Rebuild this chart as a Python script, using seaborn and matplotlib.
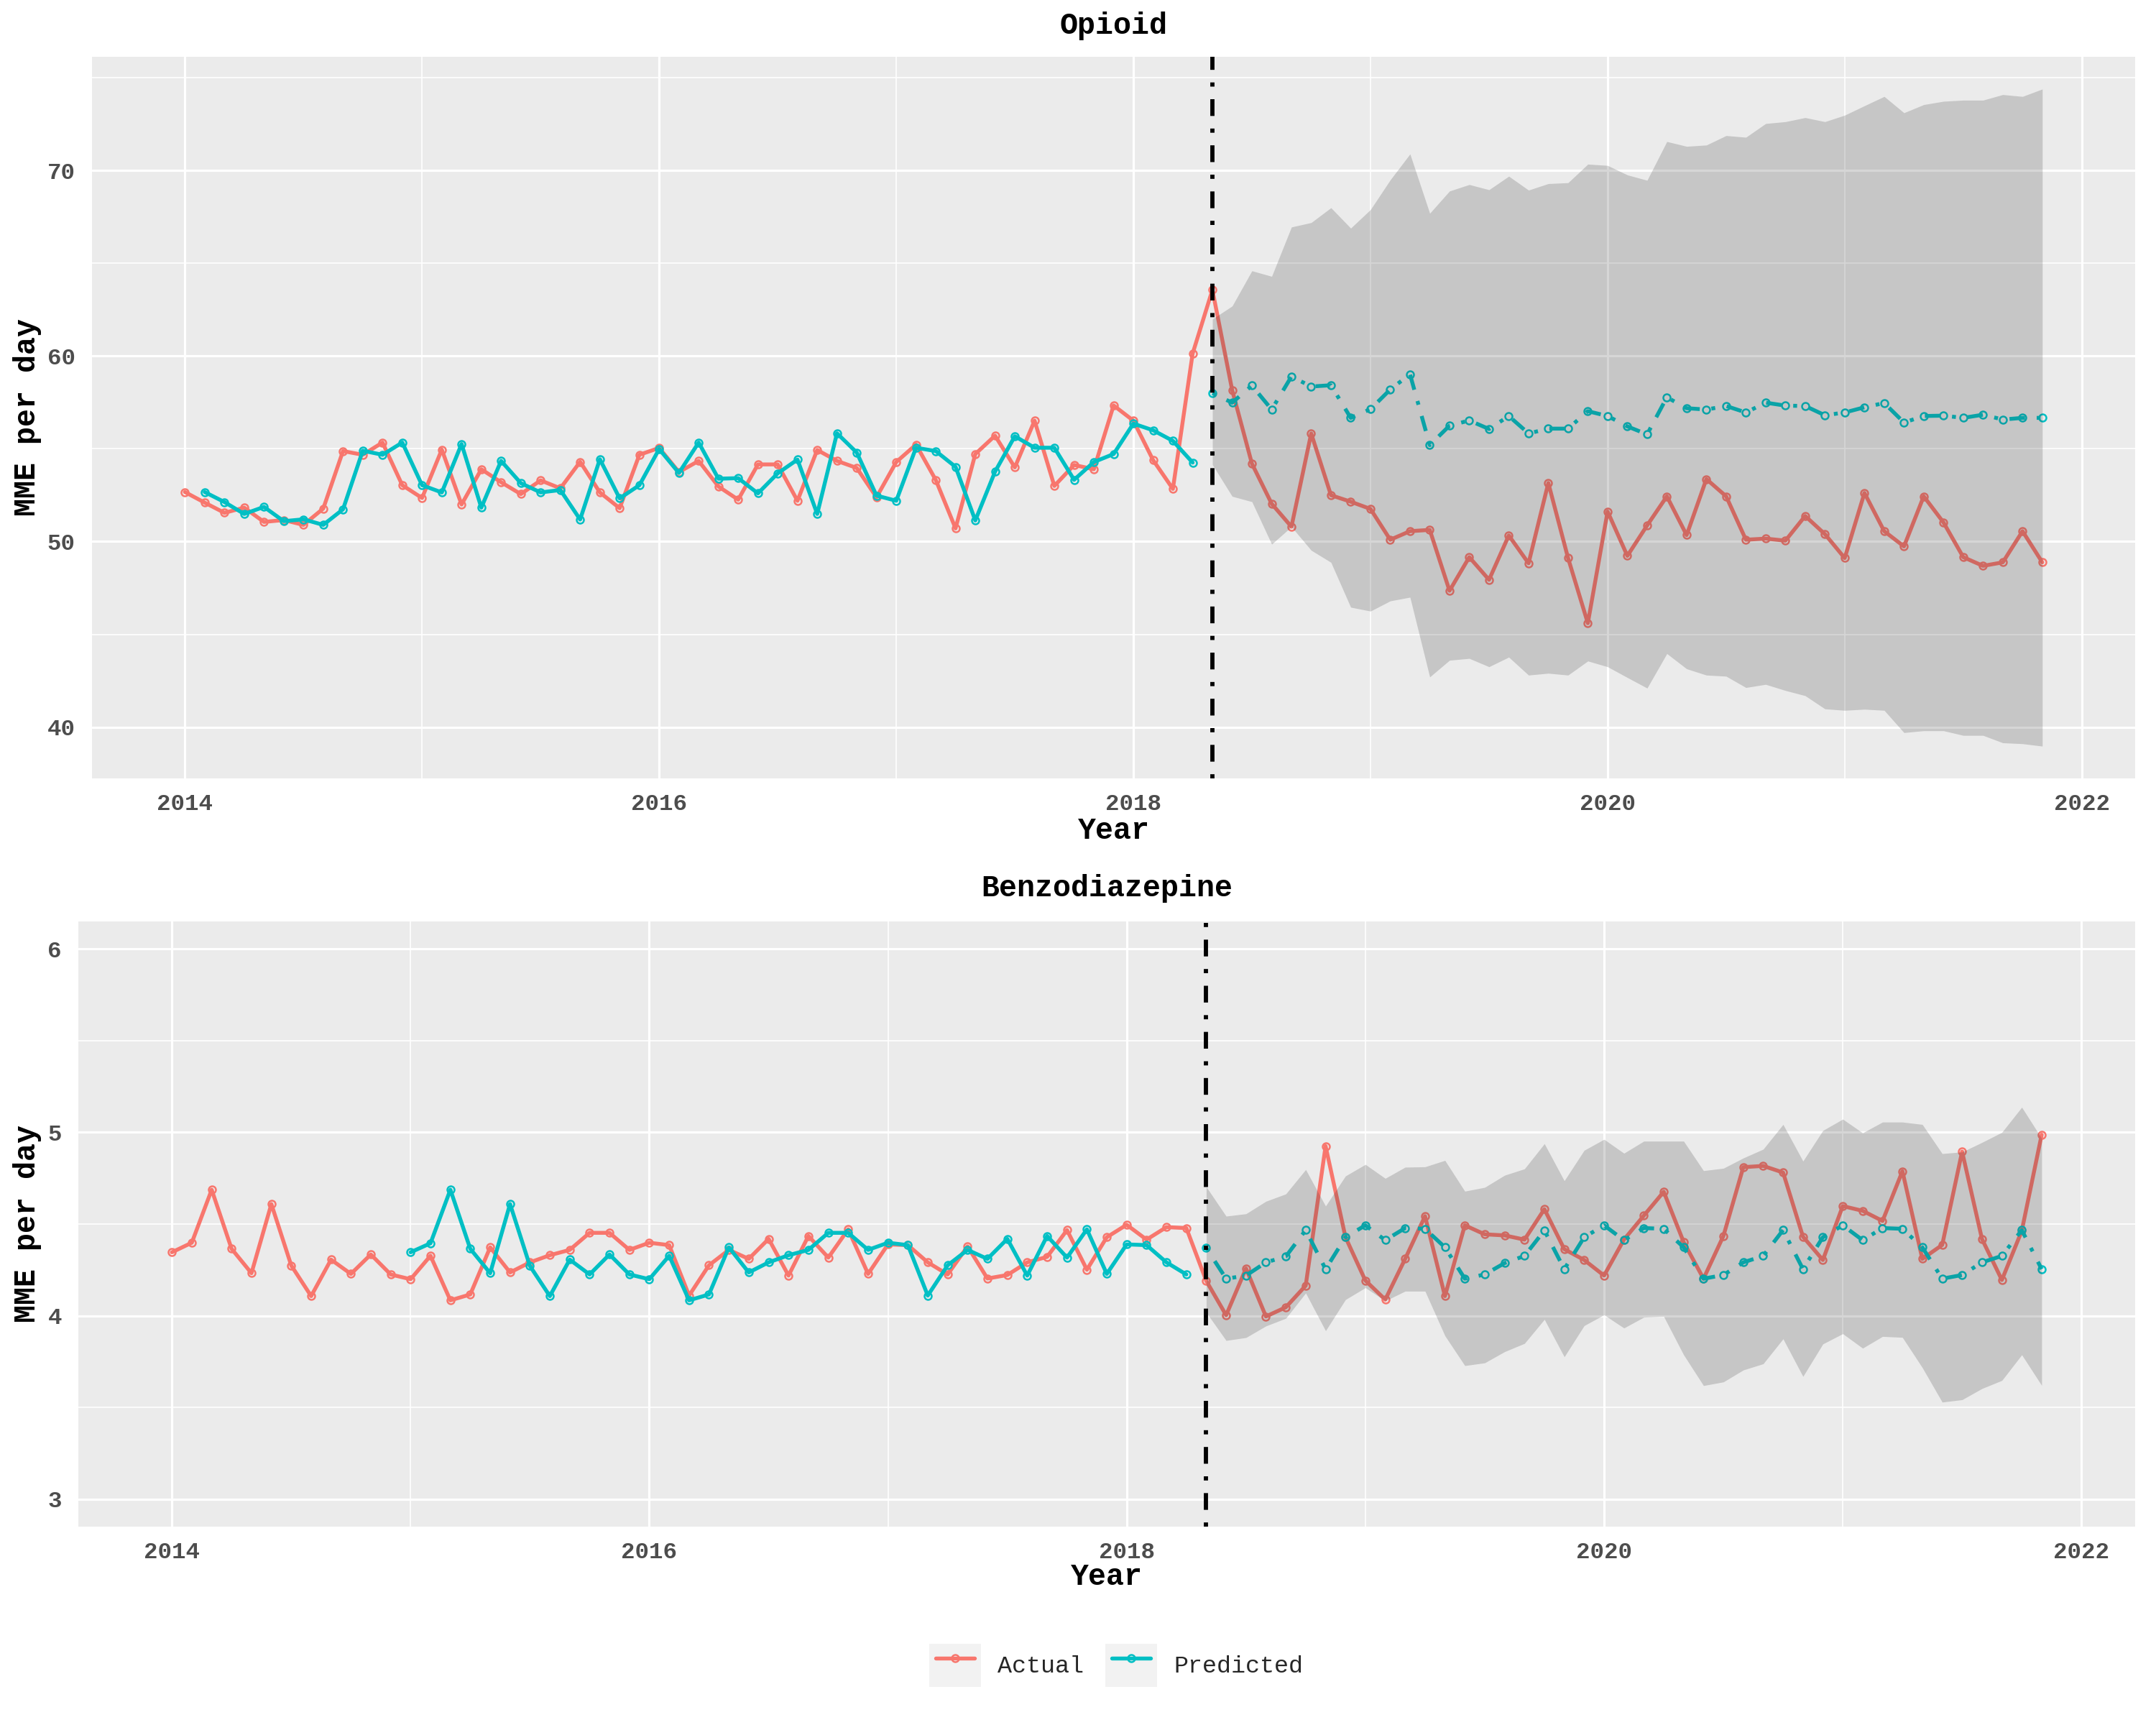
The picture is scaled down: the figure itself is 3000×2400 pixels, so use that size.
import numpy as np
import pandas as pd
import matplotlib
matplotlib.use("Agg")
import matplotlib.pyplot as plt
import seaborn as sns
from matplotlib.ticker import FixedLocator
from matplotlib.lines import Line2D
from matplotlib.patches import Patch
from matplotlib.legend_handler import HandlerTuple, HandlerLine2D

# ---------------- data ----------------
ACTUAL_START = "2014-01-01"
FORECAST_START = "2018-05-01"   # intervention / forecast start

opioid_actual = [
    52.67, 52.10, 51.55, 51.83, 51.06, 51.16, 50.90, 51.78, 54.88, 54.68, 55.34, 53.04,
    52.35, 54.96, 52.00, 53.90, 53.20, 52.56, 53.30, 52.87, 54.30, 52.65, 51.80, 54.68,
    55.05, 53.75, 54.35, 52.97, 52.26, 54.16, 54.16, 52.20, 54.94, 54.35, 53.97, 52.39,
    54.29, 55.23, 53.32, 50.71, 54.72, 55.71, 54.00, 56.52, 53.00, 54.13, 53.90, 57.34,
    56.52, 54.39, 52.84, 60.14, 63.57, 58.17, 54.20, 52.04, 50.80, 55.83, 52.50, 52.15,
    51.76, 50.10, 50.56, 50.63, 47.35, 49.16, 47.94, 50.33, 48.83, 53.16, 49.11, 45.60,
    51.62, 49.23, 50.87, 52.44, 50.35, 53.37, 52.44, 50.10, 50.16, 50.05, 51.38, 50.40,
    49.11, 52.62, 50.56, 49.74, 52.44, 51.03, 49.16, 48.69, 48.88, 50.56, 48.88,
]
opioid_pred_start = "2014-02-01"
opioid_pred_fit = [
    52.67, 52.13, 51.49, 51.87, 51.10, 51.20, 50.90, 51.74, 54.90, 54.68, 55.34,
    53.04, 52.65, 55.26, 51.83, 54.35, 53.15, 52.65, 52.78, 51.19, 54.44, 52.33, 53.04,
    54.99, 53.70, 55.34, 53.39, 53.42, 52.60, 53.68, 54.42, 51.49, 55.84, 54.80, 52.48,
    52.20, 55.06, 54.88, 54.03, 51.14, 53.77, 55.68, 55.06, 55.06, 53.33, 54.29, 54.72,
    56.36, 56.00, 55.43, 54.26,
]
opioid_pred_fc = [
    58.00, 57.49, 58.41, 57.12, 58.90, 58.36, 58.43, 56.67,
    57.14, 58.20, 59.02, 55.20, 56.25, 56.53, 56.07, 56.77, 55.83, 56.09, 56.09, 57.03,
    56.77, 56.21, 55.78, 57.78, 57.19, 57.12, 57.31, 56.96, 57.49, 57.33, 57.31, 56.81,
    56.96, 57.24, 57.47, 56.42, 56.77, 56.79, 56.67, 56.84, 56.58, 56.67, 56.67,
]
opioid_upper = [
    62.00, 62.70, 64.60, 64.30, 66.96, 67.20, 68.00, 66.90,
    67.90, 69.50, 70.90, 67.70, 68.90, 69.25, 68.97, 69.70, 68.95, 69.30, 69.35, 70.35,
    70.28, 69.77, 69.48, 71.57, 71.31, 71.38, 71.89, 71.80, 72.54, 72.64, 72.86, 72.64,
    72.99, 73.50, 74.00, 73.12, 73.56, 73.74, 73.80, 73.80, 74.10, 74.00, 74.40,
]
opioid_lower = [
    54.15, 52.44, 52.15, 49.86, 50.80, 49.53, 48.88, 46.46,
    46.25, 46.80, 47.00, 42.70, 43.60, 43.70, 43.25, 43.77, 42.80, 42.90, 42.80, 43.56,
    43.25, 42.67, 42.10, 43.96, 43.14, 42.80, 42.74, 42.13, 42.30, 41.97, 41.69, 40.98,
    40.90, 40.96, 40.90, 39.70, 39.80, 39.80, 39.55, 39.55, 39.15, 39.10, 38.97,
]

benzo_actual = [
    4.346, 4.398, 4.687, 4.365, 4.232, 4.609, 4.274, 4.107, 4.306, 4.228, 4.334, 4.225,
    4.199, 4.327, 4.084, 4.116, 4.373, 4.236, 4.291, 4.330, 4.359, 4.452, 4.452, 4.359,
    4.398, 4.385, 4.110, 4.275, 4.359, 4.310, 4.419, 4.219, 4.435, 4.317, 4.471, 4.228,
    4.389, 4.385, 4.291, 4.225, 4.378, 4.203, 4.222, 4.291, 4.321, 4.467, 4.251, 4.428,
    4.496, 4.415, 4.483, 4.478, 4.190, 4.003, 4.258, 3.996, 4.046, 4.164, 4.925, 4.428,
    4.192, 4.088, 4.310, 4.543, 4.107, 4.493, 4.444, 4.438, 4.415, 4.581, 4.363, 4.304,
    4.219, 4.415, 4.546, 4.676, 4.402, 4.202, 4.435, 4.810, 4.817, 4.781, 4.431, 4.304,
    4.598, 4.572, 4.517, 4.788, 4.310, 4.386, 4.895, 4.418, 4.195, 4.463, 4.987,
]
benzo_pred_start = "2015-01-01"
benzo_pred_fit = [
    4.346, 4.395, 4.687, 4.365, 4.232, 4.609, 4.271, 4.107, 4.306, 4.225, 4.334, 4.225,
    4.199, 4.327, 4.084, 4.116, 4.373, 4.236, 4.291, 4.330, 4.359, 4.452, 4.452, 4.359,
    4.398, 4.385, 4.110, 4.275, 4.359, 4.310, 4.419, 4.219, 4.435, 4.317, 4.471, 4.228,
    4.389, 4.385, 4.291, 4.225,
]
benzo_pred_fc = [
    4.369, 4.202, 4.219, 4.291, 4.323, 4.467, 4.254, 4.428,
    4.493, 4.412, 4.478, 4.474, 4.373, 4.202, 4.225, 4.287, 4.326, 4.465, 4.254, 4.428,
    4.493, 4.412, 4.478, 4.474, 4.373, 4.202, 4.222, 4.291, 4.326, 4.467, 4.254, 4.428,
    4.493, 4.412, 4.478, 4.474, 4.373, 4.202, 4.222, 4.291, 4.326, 4.467, 4.254,
]
benzo_upper = [
    4.703, 4.543, 4.556, 4.624, 4.664, 4.797, 4.598, 4.762,
    4.825, 4.749, 4.810, 4.812, 4.847, 4.679, 4.700, 4.766, 4.801, 4.938, 4.736, 4.902,
    4.962, 4.886, 4.952, 4.952, 4.952, 4.791, 4.804, 4.860, 4.908, 5.043, 4.843, 5.010,
    5.072, 4.997, 5.056, 5.056, 5.043, 4.884, 4.893, 4.945, 5.000, 5.137, 4.967,
]
benzo_lower = [
    4.018, 3.865, 3.881, 3.944, 3.986, 4.124, 3.918, 4.088,
    4.153, 4.081, 4.134, 4.134, 3.891, 3.728, 3.743, 3.804, 3.849, 3.980, 3.776, 3.946,
    4.005, 3.933, 3.992, 3.996, 3.787, 3.619, 3.639, 3.704, 3.738, 3.874, 3.669, 3.846,
    3.902, 3.823, 3.887, 3.882, 3.717, 3.529, 3.542, 3.603, 3.647, 3.787, 3.620,
]

panel_titles = ["Opioid", "Benzodiazepine"]
x_label = "Year"
y_label = "MME per day"
series_labels = ["Actual", "Predicted"]
x_ticks = [2014, 2016, 2018, 2020, 2022]
x_minor = [2015, 2017, 2019, 2021]

# ---------------- style ----------------
RED = "#F8766D"
TEAL = "#00BFC4"
LW = 1.3
MS = 2.4
DOTDASH = (1, 3, 4, 3)

sns.set_theme(style="darkgrid", rc={
    "axes.facecolor": "#EBEBEB",
    "figure.facecolor": "white",
    "grid.color": "white",
    "axes.edgecolor": "none",
})
plt.rcParams["font.family"] = ["Liberation Mono", "DejaVu Sans"]


def decimal_months(start, n):
    d = pd.date_range(start, periods=n, freq="MS")
    return np.asarray(d.year + (d.month - 1) / 12.0, dtype=float)


def to_dec(datestr):
    d = pd.Timestamp(datestr)
    return d.year + (d.month - 1) / 12.0


def series_line(ax, x, y, color, dashed=False, z=3):
    df = pd.DataFrame({"x": x, "y": y})
    sns.lineplot(data=df, x="x", y="y", ax=ax, color=color, lw=LW,
                 marker="o", markersize=MS, markerfacecolor="none",
                 markeredgecolor=color, markeredgewidth=0.6,
                 estimator=None, sort=False, legend=False, zorder=z)
    line = ax.lines[-1]
    if dashed:
        line.set_dashes(DOTDASH)
    return line


class PaddedLine(HandlerLine2D):
    """Legend line that stops a little short of the key box edges."""
    def create_artists(self, legend, orig_handle, xdescent, ydescent,
                       width, height, fontsize, trans):
        pad = 0.12 * width
        return super().create_artists(legend, orig_handle, xdescent - pad,
                                      ydescent, width - 2 * pad, height,
                                      fontsize, trans)


fig = plt.figure(figsize=(10, 8), dpi=300)
W, H = 3000.0, 2400.0

panels = [
    dict(rect=(128, 79, 2971, 1083), title=panel_titles[0],
         act=opioid_actual, pstart=opioid_pred_start, pfit=opioid_pred_fit,
         pfc=opioid_pred_fc, lo=opioid_lower, hi=opioid_upper,
         ylim=(37.23, 76.14), yticks=[40, 50, 60, 70], yminor=[45, 55, 65, 75],
         title_px=36, xlab_px=1156),
    dict(rect=(109, 1282, 2971, 2124), title=panel_titles[1],
         act=benzo_actual, pstart=benzo_pred_start, pfit=benzo_pred_fit,
         pfc=benzo_pred_fc, lo=benzo_lower, hi=benzo_upper,
         ylim=(2.85, 6.15), yticks=[3, 4, 5, 6], yminor=[3.5, 4.5, 5.5],
         title_px=1236, xlab_px=2194),
]

for p in panels:
    l, t, r, b = p["rect"]
    ax = fig.add_axes([l / W, 1 - b / H, (r - l) / W, (b - t) / H])
    hpx = b - t
    wpx = r - l

    x_act = decimal_months(ACTUAL_START, len(p["act"]))
    x_fit = decimal_months(p["pstart"], len(p["pfit"]))
    x_fc = decimal_months(FORECAST_START, len(p["pfc"]))

    series_line(ax, x_act, p["act"], RED, z=3)
    series_line(ax, x_fit, p["pfit"], TEAL, z=3.2)
    series_line(ax, x_fc, p["pfc"], TEAL, dashed=True, z=3.2)

    ax.fill_between(x_fc, p["lo"], p["hi"], color="#333333", alpha=0.2,
                    lw=0, zorder=4)
    ax.axvline(to_dec(FORECAST_START), color="black", lw=1.4,
               dashes=DOTDASH, zorder=5)

    ax.set_xlim(2013.608, 2022.225)
    ax.set_ylim(*p["ylim"])
    ax.xaxis.set_major_locator(FixedLocator(x_ticks))
    ax.xaxis.set_minor_locator(FixedLocator(x_minor))
    ax.yaxis.set_major_locator(FixedLocator(p["yticks"]))
    ax.yaxis.set_minor_locator(FixedLocator(p["yminor"]))
    ax.set_xticklabels([str(v) for v in x_ticks])
    ax.set_yticklabels([str(v) for v in p["yticks"]])
    ax.grid(which="major", color="white", lw=0.75)
    ax.grid(which="minor", color="white", lw=0.4)
    ax.set_axisbelow(True)
    for s in ax.spines.values():
        s.set_visible(False)
    ax.tick_params(which="major", length=2.75, width=0.7, color="#333333",
                   labelsize=7.8, labelcolor="#4D4D4D")
    ax.tick_params(axis="x", pad=2.2)
    ax.tick_params(axis="y", pad=2.8)
    ax.tick_params(which="minor", length=0)
    for lab in ax.get_xticklabels() + ax.get_yticklabels():
        lab.set_fontweight("bold")

    ax.set_xlabel(x_label, fontsize=10, fontweight="bold", color="black",
                  va="center")
    ax.xaxis.set_label_coords(0.5, (b - p["xlab_px"]) / hpx)
    ax.set_ylabel(y_label, fontsize=10, fontweight="bold", color="black",
                  va="center", ha="center")
    ax.yaxis.set_label_coords((38 - l) / wpx, 0.5)
    ax.set_title(p["title"], fontsize=10, fontweight="bold", color="black",
                 y=1 + (t - p["title_px"]) / hpx, pad=0, va="center")

# legend
handles = [
    (Patch(facecolor="#F2F2F2", edgecolor="none"),
     Line2D([], [], color=RED, lw=LW, marker="o", markersize=MS,
            markerfacecolor="none", markeredgewidth=0.6)),
    (Patch(facecolor="#F2F2F2", edgecolor="none"),
     Line2D([], [], color=TEAL, lw=LW, marker="o", markersize=MS,
            markerfacecolor="none", markeredgewidth=0.6)),
]
fig.legend(handles, series_labels,
           handler_map={tuple: HandlerTuple(ndivide=1, pad=0),
                        Line2D: PaddedLine()},
           loc="center", bbox_to_anchor=(1553 / W, 1 - 2317 / H), ncol=2,
           frameon=False, fontsize=8, handlelength=2.15, handleheight=2.4,
           handletextpad=0.7, columnspacing=0.9, numpoints=1)

fig.savefig("out.png", dpi=300)
